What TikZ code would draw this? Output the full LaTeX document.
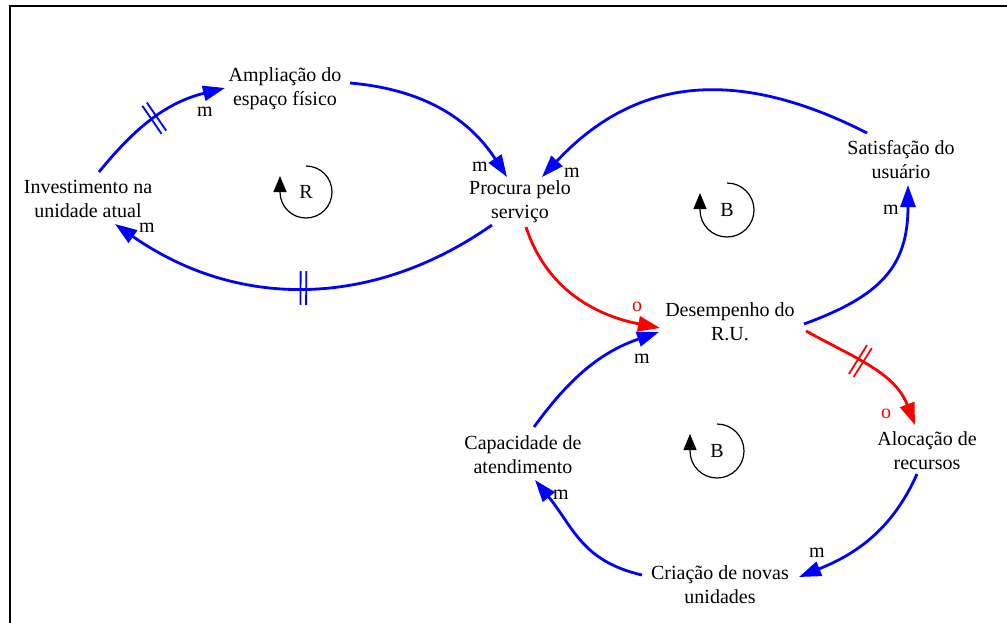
\documentclass[tikz,border=0pt]{standalone}
\usepackage{fontspec}
\setmainfont{Liberation Serif}
\usetikzlibrary{arrows.meta,decorations.markings}

\tikzset{
  varbox/.style={align=center,font=\fontsize{20}{24}\selectfont,inner sep=1pt},
  polbox/.style={font=\fontsize{20}{24}\selectfont,inner sep=0pt},
  link/.style={line width=2.8pt,-{Triangle[length=22pt,width=15pt]}},
  delaymark/.style={postaction={decorate},decoration={markings,
      mark=at position #1 with {\draw[-,line width=1.8pt] (-2.8,-17) -- (-2.8,17) (2.8,-17) -- (2.8,17);}}},
  loopmark/.style={line width=1.2pt,-{Triangle[length=16pt,width=13pt]}}
}

\begin{document}
\begin{tikzpicture}[x=1pt,y=1pt]

        \useasboundingbox (0,0) rectangle (1007,-623);

        % Frame
        \draw[line width=2pt] (10,-623) -- (10,-6) -- (1007,-6);

        % Variables
        \node[varbox] (inv) at (88,-199) {Investimento na\\unidade atual};
        \node[varbox] (amp) at (285,-89) {Ampliação do\\espaço físico};
        \node[varbox] (proc) at (520,-202) {Procura pelo\\serviço};
        \node[varbox] (sat) at (901,-160) {Satisfação do\\usuário};
        \node[varbox] (des) at (730,-322) {Desempenho do\\R.U.};
        \node[varbox] (aloc) at (927,-451) {Alocação de\\recursos};
        \node[varbox] (cap) at (523,-455) {Capacidade de\\atendimento};
        \node[varbox] (cria) at (720,-585) {Criação de novas\\unidades};

        % Loop R
        \draw[link,blue,delaymark=0.5] ([xshift=11pt,yshift=27pt]inv.center) to[out=51,in=194] ([xshift=-60pt,yshift=1pt]amp.center);
        \draw[link,blue] ([xshift=65pt,yshift=6pt]amp.center) to[out=-5,in=123] ([xshift=-13pt,yshift=25pt]proc.center);
        \draw[link,blue,delaymark=0.5] ([xshift=-28pt,yshift=-23pt]proc.center) to[out=215,in=-35] ([xshift=27pt,yshift=-25pt]inv.center);

        % Loop B (top)
        \draw[link,blue] ([xshift=-34pt,yshift=27pt]sat.center) to[out=153,in=47,looseness=1.1] ([xshift=22pt,yshift=25pt]proc.center);
        \draw[link,red] ([xshift=6pt,yshift=-25pt]proc.center) to[out=-72,in=169] ([xshift=-70pt,yshift=-6pt]des.center);
        \draw[link,blue] ([xshift=74pt,yshift=-2pt]des.center) to[out=20,in=-90,looseness=1.2] ([xshift=7pt,yshift=-25pt]sat.center);

        % Loop B (bottom)
        \draw[link,red,delaymark=0.42] ([xshift=76pt,yshift=-9pt]des.center) to[out=-29,in=111] ([xshift=-12pt,yshift=26pt]aloc.center);
        \draw[link,blue] ([xshift=-10pt,yshift=-23pt]aloc.center) to[out=-114,in=22] ([xshift=79pt,yshift=8pt]cria.center);
        \draw[link,blue] ([xshift=-78pt,yshift=10pt]cria.center) to[out=167,in=-51,looseness=1.1] ([xshift=12pt,yshift=-25pt]cap.center);
        \draw[link,blue] ([xshift=11pt,yshift=28pt]cap.center) to[out=54,in=199] ([xshift=-71pt,yshift=-10pt]des.center);

        % Polarities
        \node[polbox] (p1) at (205,-112) {m};
        \node[polbox] (p2) at (480,-167) {m};
        \node[polbox] (p3) at (147,-228) {m};
        \node[polbox] (p4) at (572,-173) {m};
        \node[polbox,text=red] (p5) at (637,-307) {o};
        \node[polbox] (p6) at (891,-210) {m};
        \node[polbox,text=red] (p7) at (886,-414) {o};
        \node[polbox] (p8) at (817,-553) {m};
        \node[polbox] (p9) at (561,-495) {m};
        \node[polbox] (p10) at (642,-359) {m};

        % Loop markers
        \draw[loopmark] (306,-166) arc[start angle=90,end angle=-180,radius=26] -- ++(0,16);
        \node[polbox] (loopR) at (306,-192) {R};
        \draw[loopmark] (727,-183) arc[start angle=90,end angle=-180,radius=27] -- ++(0,17);
        \node[polbox] (loopB1) at (727,-210) {B};
        \draw[loopmark] (717,-424) arc[start angle=90,end angle=-180,radius=27] -- ++(0,17);
        \node[polbox] (loopB2) at (717,-451) {B};

    \end{tikzpicture}
\end{document}
